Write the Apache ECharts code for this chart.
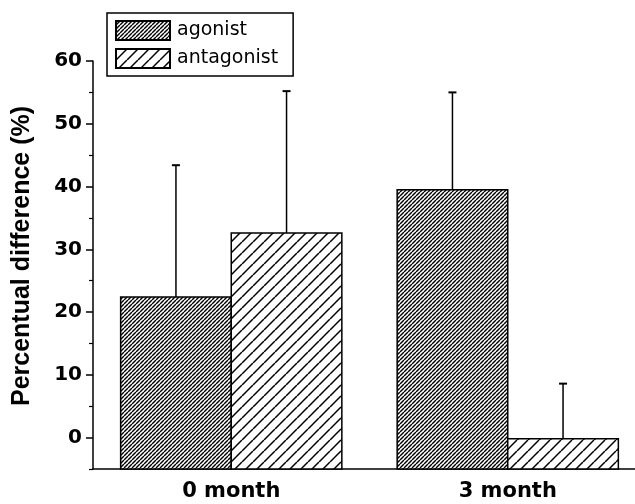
<!DOCTYPE html>
<html>
<head>
<meta charset="utf-8">
<script src="https://cdn.jsdelivr.net/npm/echarts@6/dist/echarts.min.js"></script>
<style>
  html, body { margin: 0; padding: 0; background: #fff; }
  #chart { width: 635px; height: 504px; }
</style>
</head>
<body>
<div id="chart"></div>
<script>
// data
const categories = ['0 month', '3 month']
const seriesNames = ['agonist', 'antagonist']
const agonistMean = [22.4, 39.5]
const agonistErr = [21.0, 15.5]
const antagonistMean = [32.6, -0.2]
const antagonistErr = [22.6, 8.8]
const yMajorTicks = [0, 10, 20, 30, 40, 50, 60]
const yMinorTicks = [-5, 5, 15, 25, 35, 45, 55]

const Y_MIN = -5
const Y_MAX = 60
const GAP = 0.2

// diagonal hatch tile
function hatch(size, width) {
  const c = document.createElement('canvas')
  c.width = size
  c.height = size
  const ctx = c.getContext('2d')
  ctx.fillStyle = '#fff'
  ctx.fillRect(0, 0, size, size)
  ctx.strokeStyle = '#000'
  ctx.lineWidth = width
  for (const k of [-size, 0, size]) {
    ctx.beginPath()
    ctx.moveTo(k, size)
    ctx.lineTo(k + size, 0)
    ctx.stroke()
  }
  return { image: c, repeat: 'repeat' }
}

const patterns = [hatch(4, 1.4), hatch(11, 1.5)]

function makeSeries(idx, means, errs) {
  return {
    name: seriesNames[idx],
    type: 'custom',
    itemStyle: { color: patterns[idx], borderColor: '#000', borderWidth: 1.5 },
    data: means.map((m, i) => [i, m, m + errs[i]]),
    renderItem(params, api) {
      const band = api.size([1, 0])[0]
      const barW = band * (1 - GAP) / 2
      const x = api.value(0)
      const top = api.coord([x, api.value(1)])
      const base = api.coord([x, Y_MIN])
      const hi = api.coord([x, api.value(2)])
      const left = top[0] - barW + idx * barW
      const cx = left + barW / 2
      return {
        type: 'group',
        children: [
          {
            type: 'line',
            shape: { x1: cx, y1: top[1], x2: cx, y2: hi[1] },
            style: { stroke: '#000', lineWidth: 1.5 }
          },
          {
            type: 'line',
            shape: { x1: cx - 4, y1: hi[1], x2: cx + 4, y2: hi[1] },
            style: { stroke: '#000', lineWidth: 2 }
          },
          {
            type: 'rect',
            shape: { x: left, y: top[1], width: barW, height: base[1] - top[1] },
            style: { fill: patterns[idx], stroke: '#000', lineWidth: 1.5 }
          }
        ]
      }
    }
  }
}

const chart = echarts.init(document.getElementById('chart'))

const axisLine = { lineStyle: { color: '#000', width: 1.5 } }

chart.setOption({
  animation: false,
  textStyle: { fontFamily: 'DejaVu Sans' },
  legend: {
    orient: 'vertical',
    left: 107,
    top: 13,
    padding: [7, 15, 7, 8],
    itemGap: 7,
    itemWidth: 54,
    itemHeight: 19,
    borderColor: '#000',
    borderWidth: 1.5,
    icon: 'rect',
    textStyle: { fontSize: 19, color: '#000', padding: [0, 0, 0, 2] },
    data: seriesNames
  },
  // the reference plot runs past the right edge
  grid: { left: 93, right: -11, top: 61, bottom: 35, outerBoundsMode: 'none' },
  xAxis: {
    type: 'category',
    data: categories,
    axisLine: { onZero: false, ...axisLine },
    axisTick: { show: false },
    axisLabel: { fontSize: 21, fontWeight: 'bold', color: '#000', margin: 12 }
  },
  yAxis: [
    {
      type: 'value',
      min: Y_MIN,
      max: Y_MAX,
      splitLine: { show: false },
      axisLine: { show: true, ...axisLine },
      axisTick: { show: true, length: 7, customValues: yMajorTicks, lineStyle: { width: 1.5 } },
      axisLabel: { customValues: yMajorTicks, fontSize: 20, fontWeight: 'bold', color: '#000', margin: 11 },
      name: 'Percentual difference (%)',
      nameLocation: 'middle',
      nameRotate: 90,
      nameGap: 58,
      nameTextStyle: {
        fontFamily: 'Liberation Sans',
        fontSize: 25,
        fontWeight: 'bold',
        color: '#000',
        padding: [0, 0, 0, 18]
      }
    },
    {
      type: 'value',
      position: 'left',
      min: Y_MIN,
      max: Y_MAX,
      splitLine: { show: false },
      axisLine: { show: false },
      axisTick: { show: true, length: 4, customValues: yMinorTicks, lineStyle: { width: 1.2, color: '#000' } },
      axisLabel: { show: false }
    }
  ],
  series: [
    makeSeries(0, agonistMean, agonistErr),
    makeSeries(1, antagonistMean, antagonistErr)
  ]
})
</script>
</body>
</html>
